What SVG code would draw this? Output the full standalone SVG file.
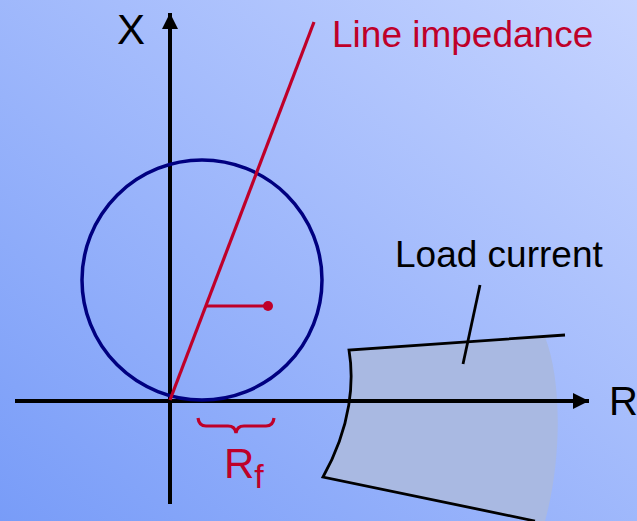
<svg xmlns="http://www.w3.org/2000/svg" width="637" height="521" viewBox="0 0 637 521">
<defs>
<linearGradient id="bg" x1="0" y1="1" x2="1" y2="0">
<stop offset="0" stop-color="#789cf8"/>
<stop offset="1" stop-color="#c6d4ff"/>
</linearGradient>
<marker id="arr" viewBox="0 0 16 16" refX="16" refY="8" markerWidth="16" markerHeight="16" markerUnits="userSpaceOnUse" orient="auto">
<path d="M0,0 L16,8 L0,16 Z" fill="#000"/>
</marker>
<style>
.ax{stroke:#000;stroke-width:4;fill:none}
.blk{stroke:#000;stroke-width:2.8;fill:none}
.red{stroke:#bf0029;stroke-width:3.2;fill:none}
.lbl{font-family:"Liberation Sans",Arial,sans-serif;fill:#000}
.rlbl{font-family:"Liberation Sans",Arial,sans-serif;fill:#bf0029}
</style>
</defs>
<rect width="637" height="521" fill="url(#bg)"/>
<g id="load-region">
<path d="M349,350 L545,337 C562,380 562,460 545,521 L535,521 L323,477 C352,425 354,380 349,350 Z" fill="#a9b9e2"/>
<path class="blk" d="M565,335 L349,350 C354,380 352,425 323,477 L535,521"/>
</g>
<g id="connectors">
<line class="ax" x1="15" y1="401" x2="589" y2="401" marker-end="url(#arr)"/>
<line class="ax" x1="170" y1="504" x2="170" y2="13" marker-end="url(#arr)"/>
<line class="blk" x1="480" y1="285" x2="463" y2="364"/>
</g>
<g id="circle">
<circle cx="202" cy="280" r="120" fill="none" stroke="#000080" stroke-width="3.5"/>
</g>
<g id="line-impedance">
<line class="red" x1="170" y1="400" x2="314" y2="22"/>
<line class="red" x1="206" y1="306" x2="268" y2="306" stroke-width="2.5"/>
<circle cx="268" cy="306" r="5" fill="#bf0029"/>
<path class="red" stroke-width="2.5" d="M198,418 Q199,426 206,426 L228,426 Q235,426 236,433 Q237,426 244,426 L266,426 Q273,426 274,418"/>
</g>
<g id="labels">
<text class="lbl" x="117" y="44" font-size="42">X</text>
<text class="lbl" x="609" y="415" font-size="40">R</text>
<text class="lbl" x="395" y="267" font-size="37">Load current</text>
<text class="rlbl" x="332" y="47" font-size="37">Line impedance</text>
<text class="rlbl" x="224" y="478" font-size="42">R<tspan font-size="34" dy="10">f</tspan></text>
</g>
</svg>
